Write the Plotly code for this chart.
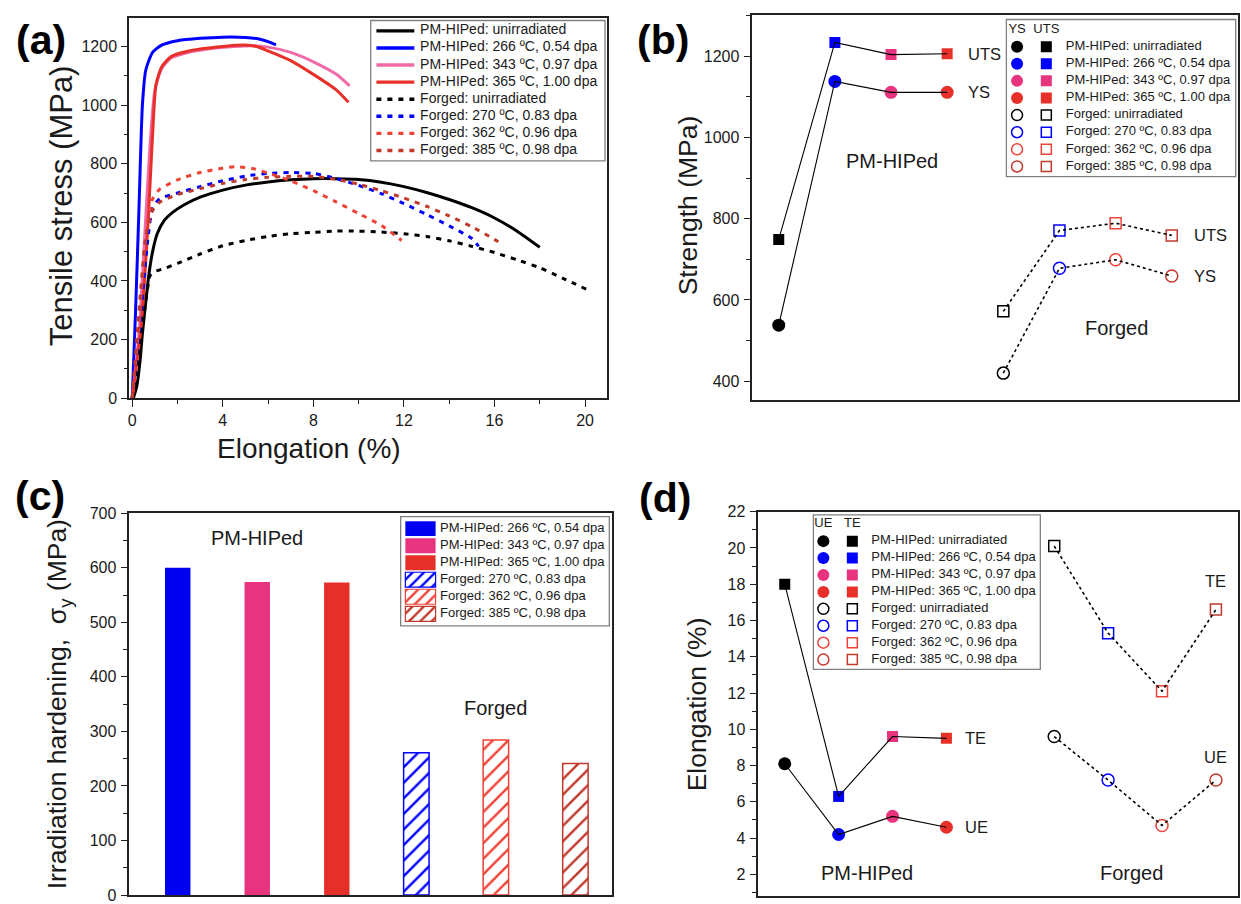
import plotly.graph_objects as go

W, H = 1241, 904
FONT = "Liberation Sans"
INK = "#1a1a1a"

# ---------------- colours ----------------
C_BLACK = "#000000"
C_BLUE = "#0000ff"
C_PINK_A = "#f06aa8"
C_MAG = "#e8347f"
C_RED = "#e8302a"
C_FRED = "#ef4136"
C_DRED = "#c0392b"

# ---------------- (a) tensile curves ----------------
PM_UNIRR_E = [0.05, 0.2, 0.35, 0.45, 0.6, 0.75, 0.9, 1.1, 1.4, 1.8, 2.3, 3, 4, 5, 6, 7, 8, 9, 10, 11, 12, 13, 14, 15, 16, 17, 18]
PM_UNIRR_S = [0, 40, 130, 220, 330, 430, 500, 560, 605, 635, 660, 686, 710, 727, 738, 745, 749, 749, 746, 737, 722, 702, 678, 650, 615, 570, 515]

PM_266_E = [0, 0.15, 0.3, 0.45, 0.6, 0.9, 1.3, 2, 3, 4, 5, 5.6, 6.0, 6.35]
PM_266_S = [0, 300, 650, 1000, 1120, 1180, 1205, 1220, 1228, 1232, 1231, 1226, 1217, 1206]

PM_343_E = [0, 0.3, 0.55, 0.8, 1.0, 1.3, 1.7, 2.5, 3.5, 4.5, 5.3, 6, 7, 8, 9, 9.6]
PM_343_S = [0, 220, 550, 880, 1050, 1125, 1160, 1180, 1193, 1200, 1203, 1198, 1180, 1148, 1106, 1066]

PM_365_E = [0, 0.4, 0.7, 0.9, 1.05, 1.3, 1.7, 2.5, 4, 5, 5.5, 6, 7, 8, 9, 9.55]
PM_365_S = [0, 250, 600, 900, 1070, 1130, 1165, 1185, 1200, 1205, 1200, 1185, 1152, 1105, 1053, 1010]

FG_UNIRR_E = [0, 0.3, 0.6, 0.8, 1.0, 1.5, 2, 3, 4, 5, 6, 7, 8, 9, 10, 11, 12, 13, 14, 15, 16, 17, 18, 19, 20.1]
FG_UNIRR_S = [0, 150, 330, 420, 432, 445, 460, 492, 520, 538, 552, 561, 566, 570, 570, 567, 561, 552, 537, 518, 497, 472, 445, 410, 370]

FG_270_E = [0, 0.4, 0.7, 0.9, 1.2, 2, 3, 4, 5, 6, 7, 8, 9, 10, 11, 12, 13, 14, 15, 15.3]
FG_270_S = [0, 300, 550, 650, 680, 700, 722, 742, 758, 767, 770, 767, 750, 726, 698, 664, 627, 588, 545, 518]

FG_362_E = [0, 0.3, 0.6, 0.9, 1.2, 2, 3, 4, 4.6, 5.3, 6, 7, 8, 9, 10, 11, 11.9]
FG_362_S = [0, 250, 550, 680, 712, 745, 770, 785, 790, 784, 768, 742, 708, 670, 630, 590, 538]

FG_385_E = [0, 0.3, 0.6, 0.9, 1.2, 2, 3, 4, 5, 6, 7, 8, 9, 10, 11, 12, 13, 14, 15, 16, 16.3]
FG_385_S = [0, 300, 550, 640, 668, 695, 715, 733, 746, 754, 757, 757, 747, 730, 708, 683, 655, 622, 585, 542, 527]

DOTS = "5px,6px"
CURVES = [
    ("PM-HIPed: unirradiated", PM_UNIRR_E, PM_UNIRR_S, C_BLACK, "solid"),
    ("PM-HIPed: 266 ºC, 0.54 dpa", PM_266_E, PM_266_S, C_BLUE, "solid"),
    ("PM-HIPed: 343 ºC, 0.97 dpa", PM_343_E, PM_343_S, C_PINK_A, "solid"),
    ("PM-HIPed: 365 ºC, 1.00 dpa", PM_365_E, PM_365_S, C_RED, "solid"),
    ("Forged: unirradiated", FG_UNIRR_E, FG_UNIRR_S, C_BLACK, DOTS),
    ("Forged: 270 ºC, 0.83 dpa", FG_270_E, FG_270_S, C_BLUE, DOTS),
    ("Forged: 362 ºC, 0.96 dpa", FG_362_E, FG_362_S, C_FRED, DOTS),
    ("Forged: 385 ºC, 0.98 dpa", FG_385_E, FG_385_S, C_DRED, DOTS),
]

# ---------------- (b) strength ----------------
LABELS = ["PM-HIPed: unirradiated", "PM-HIPed: 266 ºC, 0.54 dpa", "PM-HIPed: 343 ºC, 0.97 dpa",
          "PM-HIPed: 365 ºC, 1.00 dpa", "Forged: unirradiated", "Forged: 270 ºC, 0.83 dpa",
          "Forged: 362 ºC, 0.96 dpa", "Forged: 385 ºC, 0.98 dpa"]
PM_COLORS = [C_BLACK, C_BLUE, C_MAG, C_RED]
FG_COLORS = [C_BLACK, C_BLUE, C_FRED, C_DRED]

B_PM_X = [1, 2, 3, 4]
B_FG_X = [5, 6, 7, 8]
PM_YS = [538, 1138, 1111, 1111]
PM_UTS = [749, 1234, 1204, 1206]
FG_YS = [420, 678, 699, 659]
FG_UTS = [572, 771, 789, 759]

# ---------------- (c) irradiation hardening ----------------
C_PM_X = [1, 2, 3]
C_FG_X = [4, 5, 6]
HARD_PM = [600, 574, 573]
HARD_FG = [261, 284, 241]
HARD_PM_COLORS = ["#0000f0", C_MAG, "#e5302a"]
HARD_FG_COLORS = [C_BLUE, C_FRED, C_DRED]
C_LABELS = LABELS[1:4] + LABELS[5:8]

# ---------------- (d) elongation ----------------
D_PM_X = [1, 2, 3, 4]
D_FG_X = [6, 7, 8, 9]
PM_UE = [8.1, 4.2, 5.2, 4.6]
PM_TE = [18.0, 6.3, 9.6, 9.5]
FG_UE = [9.6, 7.2, 4.7, 7.2]
FG_TE = [20.1, 15.3, 12.1, 16.6]


def px_x(p):
    return p / W


def px_y(p):
    return 1 - p / H


def dom_x(a, b):
    return [px_x(a), px_x(b)]


def dom_y(top, bottom):
    return [max(0.0, px_y(bottom)), min(1.0, px_y(top))]


NOHOVER = dict(showlegend=False, hoverinfo="skip")
fig = go.Figure()

# ======== (a) ========
for name, e, s, col, dash in CURVES:
    fig.add_trace(go.Scatter(x=e, y=s, mode="lines", name=name,
                             line=dict(color=col, width=3, dash=dash, shape="spline", smoothing=0.6),
                             xaxis="x", yaxis="y", **NOHOVER))


# ======== (b) & (d) helpers ========
def markers(xs, ys, colors, symbol, size, xa, ya, open_=False):
    m = dict(symbol=symbol, size=size, color=colors)
    m["line"] = dict(color=colors, width=1.5) if open_ else dict(width=0)
    return go.Scatter(x=xs, y=ys, mode="markers", marker=m, xaxis=xa, yaxis=ya, **NOHOVER)


def link(xs, ys, xa, ya, dotted):
    return go.Scatter(x=xs, y=ys, mode="lines", xaxis=xa, yaxis=ya, **NOHOVER,
                      line=dict(color="black", width=1.6 if dotted else 1.1, dash="dot" if dotted else "solid"))


def marker_panel(pm_x, fg_x, pm_lo, pm_hi, fg_lo, fg_hi, xa, ya):
    fig.add_trace(markers(pm_x, pm_lo, PM_COLORS, "circle", 13, xa, ya))
    fig.add_trace(markers(pm_x, pm_hi, PM_COLORS, "square", 11, xa, ya))
    fig.add_trace(markers(fg_x, fg_lo, FG_COLORS, "circle-open", 12, xa, ya, True))
    fig.add_trace(markers(fg_x, fg_hi, FG_COLORS, "square-open", 11, xa, ya, True))
    fig.add_trace(link(pm_x, pm_lo, xa, ya, False))
    fig.add_trace(link(pm_x, pm_hi, xa, ya, False))
    fig.add_trace(link(fg_x, fg_lo, xa, ya, True))
    fig.add_trace(link(fg_x, fg_hi, xa, ya, True))


marker_panel(B_PM_X, B_FG_X, PM_YS, PM_UTS, FG_YS, FG_UTS, "x2", "y2")

# ======== (c) ========
fig.add_trace(go.Bar(x=C_PM_X, y=HARD_PM, width=0.32, marker=dict(color=HARD_PM_COLORS, line=dict(width=0)),
                     xaxis="x3", yaxis="y3", **NOHOVER))
fig.add_trace(go.Bar(x=C_FG_X, y=HARD_FG, width=0.32,
                     marker=dict(color="white", line=dict(color=HARD_FG_COLORS, width=1.5),
                                 pattern=dict(shape="/", fgcolor=HARD_FG_COLORS, bgcolor="white",
                                              size=11, solidity=0.22, fillmode="replace")),
                     xaxis="x3", yaxis="y3", **NOHOVER))

# ======== (d) ========
marker_panel(D_PM_X, D_FG_X, PM_UE, PM_TE, FG_UE, FG_TE, "x4", "y4")

# ======== hand-built legends ========
TXT13 = dict(family=FONT, size=13, color=INK)


def legend_axes(n, left, top, right, bottom, row0, step):
    """Hidden axis pair whose x unit is one pixel from the box's left edge and whose y unit is one row."""
    return {
        f"xaxis{n}": dict(domain=dom_x(left, right), range=[0, right - left], visible=False,
                          anchor=f"y{n}", fixedrange=True),
        f"yaxis{n}": dict(domain=dom_y(top, bottom), range=[(bottom - row0) / step, (top - row0) / step],
                          visible=False, anchor=f"x{n}", fixedrange=True),
    }


LEG_AXES = {}
LEG_AXES.update(legend_axes(5, 1006, 11.7, 1235.7, 171.7, 21.9, 17.43))   # (b)
LEG_AXES.update(legend_axes(6, 399.3, 517.7, 608.3, 629.0, 530.0, 17.34))  # (c)
LEG_AXES.update(legend_axes(7, 812.7, 516.0, 1040.0, 673.3, 525.5, 17.23))  # (d)
LEG_AXES.update(legend_axes(8, 369.3, 12.7, 604.0, 155.7, 23.3, 17.39))    # (a)

# (a) legend: line samples + labels
A_ROWS = list(range(8))
for r, (name, _e, _s, col, dash) in zip(A_ROWS, CURVES):
    fig.add_trace(go.Scatter(x=[5.7, 43.7], y=[r, r], mode="lines",
                             line=dict(color=col, width=3.4, dash=dash), xaxis="x8", yaxis="y8", **NOHOVER))
fig.add_trace(go.Scatter(x=[49.5] * 8, y=A_ROWS, mode="text", text=[c[0] for c in CURVES],
                         textposition="middle right", textfont=dict(family=FONT, size=14, color=INK),
                         xaxis="x8", yaxis="y8", **NOHOVER))

# (b), (d) legends
ROWS = list(range(1, 9))


def marker_legend(xa, ya, circ_x, sq_x, text_x, h1, h2):
    fig.add_trace(go.Scatter(x=[circ_x] * 4, y=ROWS[:4], mode="markers",
                             marker=dict(symbol="circle", size=12, color=PM_COLORS, line=dict(width=0)),
                             xaxis=xa, yaxis=ya, **NOHOVER))
    fig.add_trace(go.Scatter(x=[sq_x] * 4, y=ROWS[:4], mode="markers",
                             marker=dict(symbol="square", size=11, color=PM_COLORS, line=dict(width=0)),
                             xaxis=xa, yaxis=ya, **NOHOVER))
    fig.add_trace(go.Scatter(x=[circ_x] * 4, y=ROWS[4:], mode="markers",
                             marker=dict(symbol="circle-open", size=11, color=FG_COLORS,
                                         line=dict(width=1.5, color=FG_COLORS)),
                             xaxis=xa, yaxis=ya, **NOHOVER))
    fig.add_trace(go.Scatter(x=[sq_x] * 4, y=ROWS[4:], mode="markers",
                             marker=dict(symbol="square-open", size=10, color=FG_COLORS,
                                         line=dict(width=1.5, color=FG_COLORS)),
                             xaxis=xa, yaxis=ya, **NOHOVER))
    fig.add_trace(go.Scatter(x=[text_x] * 8, y=ROWS, mode="text", text=LABELS, textposition="middle right",
                             textfont=TXT13, xaxis=xa, yaxis=ya, **NOHOVER))
    fig.add_trace(go.Scatter(x=[circ_x, sq_x], y=[0, 0], mode="text", text=[h1, h2], textposition="middle center",
                             textfont=TXT13, xaxis=xa, yaxis=ya, **NOHOVER))


marker_legend("x5", "y5", 10.7, 40.0, 59.5, "YS", "UTS")
marker_legend("x7", "y7", 10.0, 39.0, 58.0, "UE", "TE")

# (c) legend patches
C_ROWS = list(range(6))
fig.add_trace(go.Bar(y=C_ROWS[:3], x=[30.3] * 3, base=[4.7] * 3, orientation="h", width=0.88,
                     marker=dict(color=HARD_PM_COLORS, line=dict(width=0)),
                     xaxis="x6", yaxis="y6", **NOHOVER))
fig.add_trace(go.Bar(y=C_ROWS[3:], x=[30.3] * 3, base=[4.7] * 3, orientation="h", width=0.88,
                     marker=dict(color="white", line=dict(color=HARD_FG_COLORS, width=1.2),
                                 pattern=dict(shape="/", fgcolor=HARD_FG_COLORS, bgcolor="white",
                                              size=8, solidity=0.3, fillmode="replace")),
                     xaxis="x6", yaxis="y6", **NOHOVER))
fig.add_trace(go.Scatter(x=[39.5] * 6, y=C_ROWS, mode="text", text=C_LABELS, textposition="middle right",
                         textfont=TXT13, xaxis="x6", yaxis="y6", **NOHOVER))

# ---------------- axes ----------------
AX_LINE = dict(showline=True, linecolor="#222", linewidth=1.5, mirror=True, showgrid=False, zeroline=False)
TICKF = dict(family=FONT, size=16, color=INK)
TICKS = dict(ticks="outside", ticklen=6.5, tickwidth=1.3, tickcolor="#222", tickfont=TICKF)


def yax(dom, rng, dtick, minor_dtick, anchor):
    return dict(domain=dom, range=rng, dtick=dtick, tick0=0, anchor=anchor, ticklabelstandoff=1, **TICKS,
                minor=dict(dtick=minor_dtick, ticks="outside", ticklen=3.7, tickwidth=1.1, tickcolor="#222"),
                **AX_LINE)


def xbare(dom, rng, anchor):
    return dict(domain=dom, range=rng, showticklabels=False, ticks="", anchor=anchor, **AX_LINE)


layout = dict(
    width=W, height=H, autosize=False, margin=dict(l=0, r=0, t=0, b=0),
    paper_bgcolor="white", plot_bgcolor="rgba(0,0,0,0)", barmode="overlay", showlegend=False,
    font=dict(family=FONT, color=INK),
    # (a)
    xaxis=dict(domain=dom_x(127.7, 606), range=[-0.12, 20.97], dtick=4, tick0=0, anchor="y", **TICKS,
               minor=dict(dtick=2, ticks="outside", ticklen=3.7, tickwidth=1.1, tickcolor="#222"), **AX_LINE),
    yaxis=yax(dom_y(10, 397.5), [-1, 1298], 200, 100, "x"),
    # (b)
    xaxis2=xbare(dom_x(751, 1238), [0.52, 9.18], "y2"),
    yaxis2=yax(dom_y(7.3, 399), [354, 1301], 200, 100, "x2"),
    # (c)
    xaxis3=xbare(dom_x(127, 611), [0.385, 6.46], "y3"),
    yaxis3=yax(dom_y(514.3, 903), [0, 700], 100, 50, "x3"),
    # (d)
    xaxis4=xbare(dom_x(757, 1238), [0.5, 9.41], "y4"),
    yaxis4=yax(dom_y(512.7, 904), [0.81, 22], 2, 1, "x4"),
    **LEG_AXES,
)
fig.update_layout(**layout)

# legend boxes
for n in (5, 6, 7, 8):
    fig.add_shape(type="rect", xref=f"x{n} domain", yref=f"y{n} domain", x0=0, x1=1, y0=0, y1=1,
                  line=dict(color="#808080", width=1.3), fillcolor="rgba(0,0,0,0)")

# ---------------- annotations ----------------
ann = []


def A(text, x, y, size, xref="paper", yref="paper", angle=0, bold=False, xanchor="center", yanchor="middle"):
    ann.append(dict(text=f"<b>{text}</b>" if bold else text, x=x, y=y, xref=xref, yref=yref, showarrow=False,
                    textangle=angle, xanchor=xanchor, yanchor=yanchor,
                    font=dict(family=FONT, size=size, color="#000" if bold else INK)))


A("(a)", px_x(39), px_y(33), 41, bold=True)
A("(b)", px_x(662), px_y(33), 41, bold=True)
A("(c)", px_x(38), px_y(497), 41, bold=True)
A("(d)", px_x(664), px_y(499), 41, bold=True)

A("Tensile stress (MPa)", px_x(60), px_y(201), 31, angle=-90)
A("Elongation (%)", px_x(307), px_y(448), 28)
A("Strength (MPa)", px_x(688), px_y(201), 26.5, angle=-90)
A("Irradiation hardening,  σ<sub>y</sub> (MPa)", px_x(58), px_y(709), 26.5, angle=-90)
A("Elongation (%)", px_x(697), px_y(709), 26.5, angle=-90)

# (b) labels
A("PM-HIPed", 3.02, 942, 20, "x2", "y2")
A("Forged", 7.02, 530, 20, "x2", "y2")
A("UTS", 4.34, 1205, 16.5, "x2", "y2", xanchor="left")
A("YS", 4.34, 1111, 16.5, "x2", "y2", xanchor="left")
A("UTS", 8.36, 759, 16.5, "x2", "y2", xanchor="left")
A("YS", 8.36, 659, 16.5, "x2", "y2", xanchor="left")

# (c) labels
A("PM-HIPed", 2.0, 655, 20, "x3", "y3")
A("Forged", 5.0, 342, 20, "x3", "y3")

# (d) labels
A("TE", 4.31, 9.5, 16.5, "x4", "y4", xanchor="left")
A("UE", 4.31, 4.6, 16.5, "x4", "y4", xanchor="left")
A("TE", 9.0, 18.2, 16.5, "x4", "y4")
A("UE", 9.0, 8.5, 16.5, "x4", "y4")
A("PM-HIPed", 2.52, 2.1, 20, "x4", "y4")
A("Forged", 7.44, 2.1, 20, "x4", "y4")

fig.update_layout(annotations=ann)

fig.write_html("out.html", config={"displayModeBar": False},
               post_script="document.body.style.margin='0';document.body.style.overflow='hidden';")
